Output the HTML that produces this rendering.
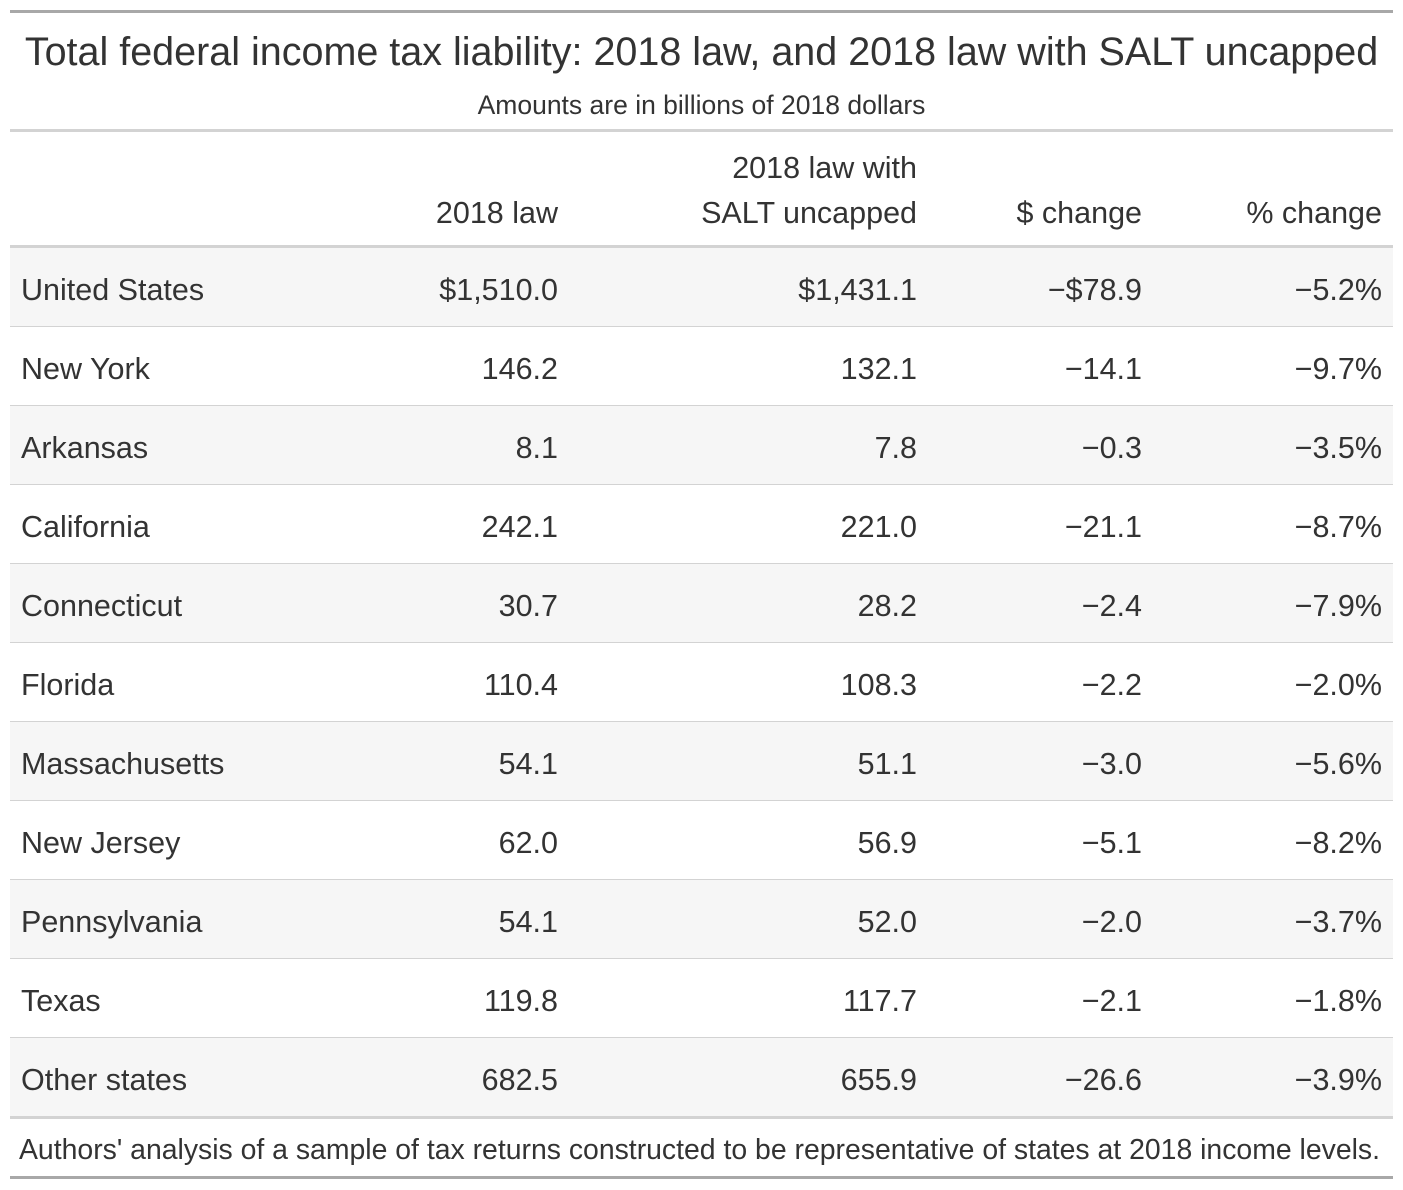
<!DOCTYPE html>
<html><head><meta charset="utf-8"><style>
body{margin:0;width:1403px;height:1190px;background:#fff;font-family:"Liberation Sans",sans-serif;color:#333;position:relative;overflow:hidden}
.a{position:absolute;white-space:nowrap}
.r{position:absolute;left:10px;width:1383px}
.t{position:absolute;white-space:nowrap;font-size:30.5px;line-height:32px}
.rt{text-align:right}
</style></head><body>
<div class="a" style="left:10px;top:10px;width:1383px;height:3px;background:#a8a8a8"></div>
<div class="a" style="left:0;width:1403px;text-align:center;top:30px;font-size:39.5px;line-height:44px">Total federal income tax liability: 2018 law, and 2018 law with SALT uncapped</div>
<div class="a" style="left:0;width:1403px;text-align:center;top:90px;font-size:26.5px;line-height:30px">Amounts are in billions of 2018 dollars</div>
<div class="a" style="left:10px;top:129px;width:1383px;height:3px;background:#d3d3d3"></div>
<div class="t rt" style="right:845px;top:197px">2018 law</div>
<div class="t rt" style="right:486px;top:146px;line-height:45px">2018 law with<br>SALT uncapped</div>
<div class="t rt" style="right:261px;top:197px">$ change</div>
<div class="t rt" style="right:21px;top:197px">% change</div>
<div class="a" style="left:10px;top:245px;width:1383px;height:3px;background:#d3d3d3"></div>
<div id="rows"></div>
<div class="a" style="left:10px;top:1116px;width:1383px;height:3px;background:#d3d3d3"></div>
<div class="a" style="left:19px;top:1134px;font-size:28.4px;line-height:32px">Authors' analysis of a sample of tax returns constructed to be representative of states at 2018 income levels.</div>
<div class="a" style="left:10px;top:1176px;width:1383px;height:3px;background:#a8a8a8"></div>
<script>
const states=["United States","New York","Arkansas","California","Connecticut","Florida","Massachusetts","New Jersey","Pennsylvania","Texas","Other states"];
const law2018=["$1,510.0","146.2","8.1","242.1","30.7","110.4","54.1","62.0","54.1","119.8","682.5"];
const uncapped=["$1,431.1","132.1","7.8","221.0","28.2","108.3","51.1","56.9","52.0","117.7","655.9"];
const dchange=["\u2212$78.9","\u221214.1","\u22120.3","\u221221.1","\u22122.4","\u22122.2","\u22123.0","\u22125.1","\u22122.0","\u22122.1","\u221226.6"];
const pchange=["\u22125.2%","\u22129.7%","\u22123.5%","\u22128.7%","\u22127.9%","\u22122.0%","\u22125.6%","\u22128.2%","\u22123.7%","\u22121.8%","\u22123.9%"];
const host=document.getElementById('rows');
states.forEach((s,i)=>{
  const top=248+i*79;
  const row=document.createElement('div');
  row.className='r';
  
  
  row.style.top=top+'px';row.style.height='78px';
  row.style.background=i%2===0?'#f6f6f6':'#fff';
  row.style.borderBottom=i<states.length-1?'1.5px solid #d3d3d3':'none';
  host.appendChild(row);
  const cells=[[s,'left:21px'],[law2018[i],'right:845px'],[uncapped[i],'right:486px'],[dchange[i],'right:261px'],[pchange[i],'right:21px']];
  const names=['state-name','value-2018-law','value-salt-uncapped','value-dollar-change','value-pct-change'];
  cells.forEach((c,j)=>{
    const d=document.createElement('div');
    d.className='t';
    
    
    d.style.cssText+=c[1]+';top:'+(top+26)+'px';
    d.textContent=c[0];
    document.body.appendChild(d);
  });
});
</script>
</body></html>
